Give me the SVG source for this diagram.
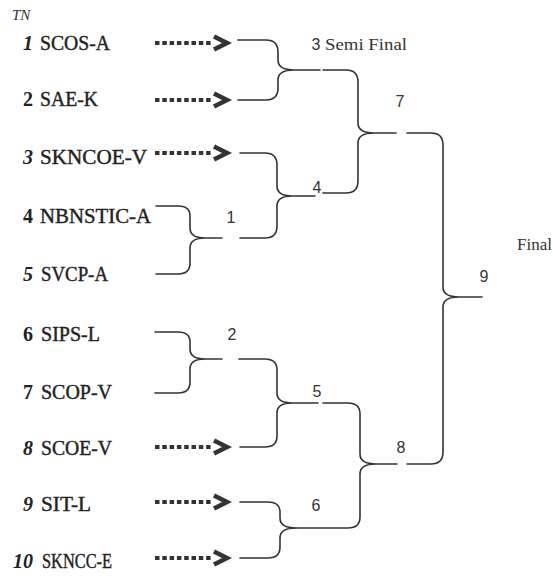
<svg xmlns="http://www.w3.org/2000/svg" width="553" height="576" viewBox="0 0 553 576">
<style>
.bg{fill:#fff}
.num{font-family:'Liberation Serif','Times New Roman',Times,serif;font-size:20px;font-weight:bold;fill:#222;text-anchor:end}
.it{font-style:italic}
.name{font-family:'Liberation Serif','Times New Roman',Times,serif;font-size:20px;fill:#222;stroke:#222;stroke-width:0.4}
.tn{font-family:'Liberation Serif','Times New Roman',Times,serif;font-size:15px;font-style:italic;fill:#333}
.lab{font-family:'Liberation Sans',Arial,sans-serif;font-size:16px;fill:#333;text-anchor:middle}
.ser{font-family:'Liberation Serif','Times New Roman',Times,serif;font-size:17px;fill:#333}
.br{fill:none;stroke:#333;stroke-width:1.6;stroke-linecap:round}
.dots{stroke:#333;stroke-width:4.2;stroke-dasharray:4.5 2.8}
.chev{fill:none;stroke:#333;stroke-width:4.5;stroke-linejoin:miter}
</style>
<defs>
<g id="arrow">
<line class="dots" x1="155" y1="0" x2="212" y2="0"/>
<polyline class="chev" points="214,-6.5 227,0 214,6.5"/>
</g>
</defs>
<rect class="bg" x="0" y="0" width="553" height="576"/>
<text class="tn" x="12" y="20">TN</text>
<g id="team1"><text class="num it" x="33" y="50">1</text><text class="name" x="40" y="50" textLength="70" lengthAdjust="spacingAndGlyphs">SCOS-A</text></g>
<g id="team2"><text class="num" x="33" y="106">2</text><text class="name" x="40" y="106" textLength="58" lengthAdjust="spacingAndGlyphs">SAE-K</text></g>
<g id="team3"><text class="num it" x="33" y="164">3</text><text class="name" x="40" y="164" textLength="107" lengthAdjust="spacingAndGlyphs">SKNCOE-V</text></g>
<g id="team4"><text class="num" x="33" y="223">4</text><text class="name" x="40" y="223" textLength="111" lengthAdjust="spacingAndGlyphs">NBNSTIC-A</text></g>
<g id="team5"><text class="num it" x="33" y="281">5</text><text class="name" x="41" y="281" textLength="67" lengthAdjust="spacingAndGlyphs">SVCP-A</text></g>
<g id="team6"><text class="num" x="33" y="341">6</text><text class="name" x="41" y="341" textLength="59" lengthAdjust="spacingAndGlyphs">SIPS-L</text></g>
<g id="team7"><text class="num" x="33" y="399">7</text><text class="name" x="41" y="399" textLength="71" lengthAdjust="spacingAndGlyphs">SCOP-V</text></g>
<g id="team8"><text class="num it" x="33" y="455">8</text><text class="name" x="41" y="455" textLength="71" lengthAdjust="spacingAndGlyphs">SCOE-V</text></g>
<g id="team9"><text class="num it" x="33" y="511">9</text><text class="name" x="41" y="511" textLength="50" lengthAdjust="spacingAndGlyphs">SIT-L</text></g>
<g id="team10"><text class="num it" x="33" y="568">10</text><text class="name" x="42" y="568" textLength="70" lengthAdjust="spacingAndGlyphs">SKNCC-E</text></g>
<g id="connectors">
<use href="#arrow" transform="translate(0,43)"/>
<use href="#arrow" transform="translate(0,100)"/>
<use href="#arrow" transform="translate(0,153)"/>
<use href="#arrow" transform="translate(0,447)"/>
<use href="#arrow" transform="translate(0,502)"/>
<use href="#arrow" transform="translate(0,558)"/>
<path class="br" d="M238,40 L266,40 Q278,40 278,52 L278,60 Q278,70 294,70 L320,70 M294,70 Q278,70 278,80 L278,88 Q278,100 266,100 L238,100"/>
<path class="br" d="M323,70 L346,70 Q358,70 358,82 L358,123 Q358,133 374,133 L396,133 M374,133 Q358,133 358,143 L358,181 Q358,193 346,193 L323,193"/>
<path class="br" d="M240,153 L265,153 Q277,153 277,165 L277,186 Q277,196 292,196 L315,196 M292,196 Q277,196 277,206 L277,226 Q277,238 265,238 L240,238"/>
<path class="br" d="M156,206 L178,206 Q190,206 190,216 L190,228 Q190,238 205,238 L222,238 M205,238 Q190,238 190,248 L190,263 Q190,274 178,274 L156,274"/>
<path class="br" d="M155,332 L178,332 Q190,332 190,342 L190,349 Q190,359 205,359 L222,359 M205,359 Q190,359 190,369 L190,382 Q190,393 178,393 L155,393"/>
<path class="br" d="M239,359 L265,359 Q277,359 277,370 L277,393 Q277,403 292,403 L318,403 M292,403 Q277,403 277,413 L277,436 Q277,447 265,447 L240,447"/>
<path class="br" d="M323,403 L348,403 Q360,403 360,414 L360,454 Q360,464 376,464 L397,464 M376,464 Q360,464 360,474 L360,517 Q360,528 348,528 L296,528"/>
<path class="br" d="M240,502 L268,502 Q280,502 280,512 L280,518 Q280,528 296,528 M296,528 Q280,528 280,538 L280,547 Q280,558 268,558 L240,558"/>
<path class="br" d="M407,133 L431,133 Q443,133 443,145 L443,287 Q443,297 459,297 L482,297 M459,297 Q443,297 443,307 L443,452 Q443,464 431,464 L407,464"/>
</g>
<g id="stage1"><text class="lab" x="231" y="223">1</text></g>
<g id="stage2"><text class="lab" x="232" y="340">2</text></g>
<g id="stage3"><text class="lab" x="316" y="50">3</text><text class="ser" x="325" y="50" textLength="82" lengthAdjust="spacingAndGlyphs">Semi Final</text></g>
<g id="stage4"><text class="lab" x="317" y="193">4</text></g>
<g id="stage5"><text class="lab" x="317" y="397">5</text></g>
<g id="stage6"><text class="lab" x="316" y="511">6</text></g>
<g id="stage7"><text class="lab" x="400" y="107">7</text></g>
<g id="stage8"><text class="lab" x="401" y="453">8</text></g>
<g id="stage9"><text class="lab" x="484" y="282">9</text></g>
<g id="final"><text class="ser" x="517" y="250">Final</text></g>
</svg>
